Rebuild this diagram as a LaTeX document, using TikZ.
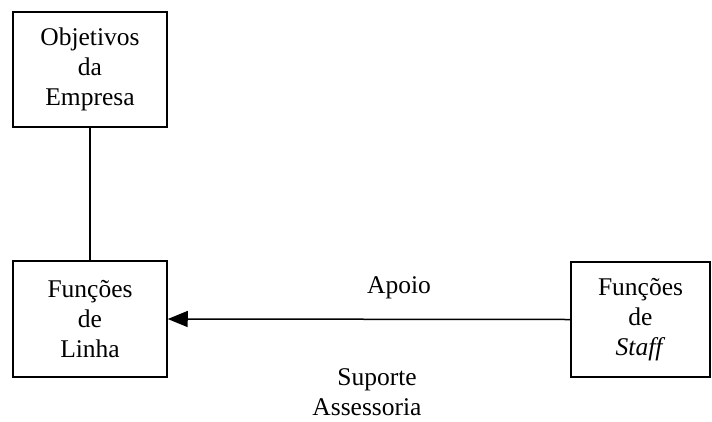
\documentclass[tikz,border=0pt]{standalone}
\usepackage{fontspec}
\setmainfont{Liberation Serif}
\usetikzlibrary{arrows.meta}
\begin{document}
\begin{tikzpicture}[x=1pt,y=-1pt,
  box/.style={draw,line width=1.5pt,inner sep=0pt,align=center,
    font=\fontsize{25.5}{30}\selectfont},
  lbl/.style={anchor=base,inner sep=0pt,font=\fontsize{25.5}{30}\selectfont},
  link/.style={line width=1.5pt}]
\useasboundingbox (0,0) rectangle (712,421);
% organisation boxes
\node[box,minimum width=154pt,minimum height=115pt] (obj) at (90,69.5)
  {Objetivos\\da\\Empresa};
\node[box,minimum width=154pt,minimum height=116pt] (linha) at (90,319)
  {Funções\\de\\Linha};
\node[box,minimum width=139pt,minimum height=115pt] (staff) at (640.5,319.5)
  {Funções\\de\\\textit{Staff}};
% connectors
\draw[link] (obj.south) -- (linha.north);
\draw[link,-{Triangle[length=20pt,width=16pt]}] (staff.west) -- (linha.east);
% labels of the support link
\node[lbl] (apoio) at (399,293) {Apoio};
\node[lbl] (suporte) at (377,385) {Suporte};
\node[lbl] (assess) at (367,415) {Assessoria};
\end{tikzpicture}
\end{document}
